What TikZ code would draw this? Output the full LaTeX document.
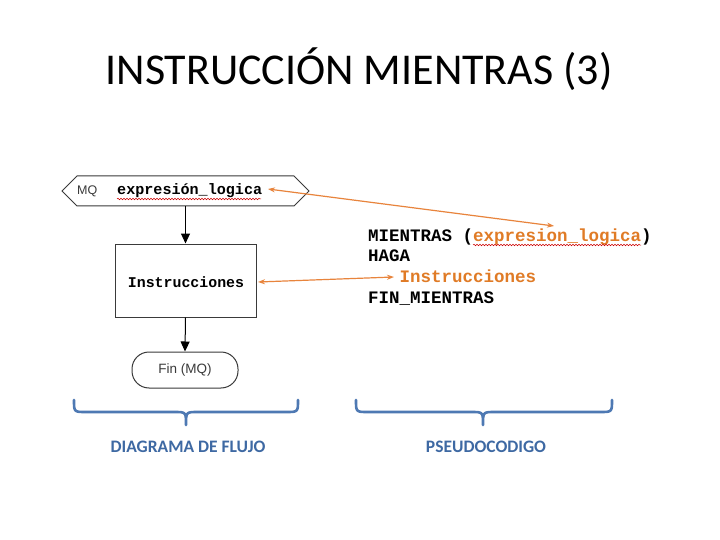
\documentclass[tikz,border=0pt]{standalone}
\usepackage{fontspec}
\setmainfont{Carlito}
\newfontfamily\monob{Liberation Mono}[BoldFont={Liberation Mono Bold}]
\newfontfamily\arialf{Liberation Sans}
\usetikzlibrary{shapes.symbols,arrows.meta,decorations.pathmorphing}
\definecolor{orng}{HTML}{E8843C}
\definecolor{orngtxt}{HTML}{E07B26}
\definecolor{bracec}{HTML}{4E79B3}
\definecolor{labc}{HTML}{3E69A3}
\definecolor{linec}{HTML}{3A3A3A}
\begin{document}
\begin{tikzpicture}[x=1pt,y=-1pt,
  flow/.style={draw=linec,line width=1pt},
  conn/.style={draw=black,line width=1pt,-{Triangle[length=10pt,width=9pt]}},
  link/.style={draw=orng,line width=1.2pt,{Stealth[length=7pt,width=5pt]}-{Stealth[length=7pt,width=5pt]}},
  brace/.style={draw=bracec,line width=2.6pt,line cap=round,line join=round},
  squig/.style={draw=red!80!black,line width=0.5pt,decorate,decoration={snake,amplitude=0.8pt,segment length=3pt}},
  code/.style={font=\monob\bfseries\fontsize{17.5}{20}\selectfont,anchor=base west,inner sep=0pt},
  lab/.style={font=\bfseries\fontsize{17.5}{20}\selectfont,text=labc}]
\useasboundingbox (0,0) rectangle (720,540);
\fill[white] (0,0) rectangle (720,540);
% title
\node[font=\fontsize{44}{50}\selectfont,anchor=base] (title) at (359,85) {INSTRUCCIÓN MIENTRAS (3)};
% flowchart
\node[flow,shape=signal,signal to=west and east,signal pointer angle=90,minimum width=247pt,minimum height=30pt,inner sep=0pt] (hex) at (185.5,191) {};
\node[font=\arialf\fontsize{12.5}{14}\selectfont,text=linec,anchor=base west,inner sep=0pt] (mq) at (77,195) {MQ};
\node[font=\monob\bfseries\fontsize{15.1}{17}\selectfont,anchor=base west,inner sep=0pt] (expr) at (117,195) {expresión\_logica};
\draw[squig] (117,199) -- (261,199);
\node[flow,minimum width=141pt,minimum height=73pt,inner sep=0pt] (box) at (185.5,280.5) {};
\node[font=\monob\bfseries\fontsize{14.9}{17}\selectfont,inner sep=0pt] (instr) at (186,282) {Instrucciones};
\node[flow,rounded corners=17pt,minimum width=106pt,minimum height=36pt,inner sep=0pt,font=\arialf\fontsize{13.5}{16}\selectfont,text=linec] (fin) at (185,370) {Fin (MQ)};
\draw[conn] (hex.south) -- (box.north);
\draw[conn] (box.south) -- (fin.north);
% pseudocode
\node[code] (l1) at (368,241) {MIENTRAS (\textcolor{orngtxt}{expresion\_logica})};
\node[code] (l2) at (368,261) {HAGA};
\node[code,text=orngtxt] (l3) at (399.5,282) {Instrucciones};
\node[code] (l4) at (368,303) {FIN\_MIENTRAS};
\draw[squig] (473,245) -- (641,245);
\coordinate (c1) at (268,189);
\coordinate (c2) at (554,226);
\draw[link] (c1) -- (c2);
\coordinate (c3) at (258,282);
\coordinate (c4) at (394,277);
\draw[link] (c3) -- (c4);
% braces
\draw[brace] (74,400) .. controls (74,412) .. (86,412) -- (174,412) .. controls (186,412) .. (186,425) .. controls (186,412) .. (198,412) -- (286,412) .. controls (298,412) .. (298,400);
\draw[brace] (356,400) .. controls (356,412) .. (368,412) -- (471,412) .. controls (483,412) .. (483,425) .. controls (483,412) .. (495,412) -- (600,412) .. controls (612,412) .. (612,400);
\node[lab] (lab1) at (188,447) {DIAGRAMA DE FLUJO};
\node[lab] (lab2) at (486,447) {PSEUDOCODIGO};
\end{tikzpicture}
\end{document}
